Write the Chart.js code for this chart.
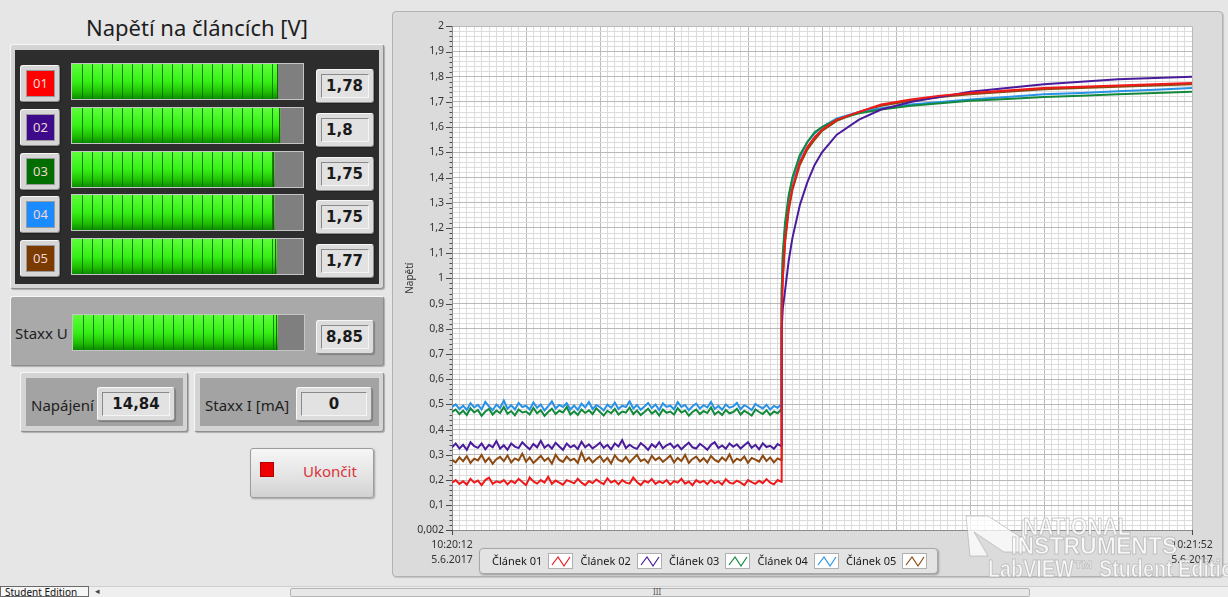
<!DOCTYPE html>
<html><head><meta charset="utf-8">
<script src="https://cdn.jsdelivr.net/npm/chart.js@4.4.1/dist/chart.umd.min.js"></script>
<style>
html,body{margin:0;padding:0;}
body{width:1228px;height:597px;background:#e6e6e6;position:relative;overflow:hidden;font-family:"Noto Sans",sans-serif;}
.abs{position:absolute;box-sizing:border-box;}
.raised{background:#d9d9d9;border:1px solid #f7f7f7;border-right-color:#8e8e8e;border-bottom-color:#8e8e8e;border-radius:3px;box-shadow:1px 1px 1px rgba(0,0,0,0.25);}
.sunken{background:#e2e2e2;border:1px solid #8a8a8a;border-right-color:#f5f5f5;border-bottom-color:#f5f5f5;}
.valtxt{font-family:"DejaVu Sans",sans-serif;font-weight:bold;font-size:15px;color:#1a1a1a;}
.lbl{font-size:15px;color:#1e1e1e;}
.meter{background:#7f7f7f;border:1px solid #c4c4c4;}
.meter canvas{position:absolute;left:0;top:0;}
.wm{position:absolute;font-family:"Liberation Sans",sans-serif;line-height:1;color:rgba(255,255,255,0.8);-webkit-text-stroke:1px rgba(160,160,160,0.55);white-space:nowrap;transform-origin:left top;pointer-events:none;}
</style>
</head><body>
<script>
// ---------------- DATA ----------------
const cellNames = ["01","02","03","04","05"];
const cellValues = [1.78, 1.8, 1.75, 1.75, 1.77];
const cellMeterMax = 2;
const staxxU = 8.85;
const staxxUMax = 10;
const napajeni = 14.84;
const staxxI = 0;

const seriesLabels = ["Článek 01","Článek 02","Článek 03","Článek 04","Článek 05"];
const seriesColors = ["#f01818","#4a1c9c","#13893c","#2a92e6","#8c4a12"];
const buttonColors = ["#ff0000","#3d0a8c","#006e00","#1a8cff","#7a3a00"];

const xTickLabels = [["10:20:12","5.6.2017"],["10:21:52","5.6.2017"]];
const xRangeSeconds = [0, 100];
const yTickLabels = ["0,002","0,1","0,2","0,3","0,4","0,5","0,6","0,7","0,8","0,9","1","1,1","1,2","1,3","1,4","1,5","1,6","1,7","1,8","1,9","2"];
const yRange = [0.002, 2];
const yAxisTitle = "Napětí";

// noisy idle samples, one every flatStep seconds starting at t = 0
const flatStep = 0.5;
const flat01 = [0.19,0.2,0.185,0.195,0.182,0.205,0.19,0.198,0.18,0.2,0.21,0.185,0.195,0.19,0.2,0.183,0.197,0.188,0.205,0.192,0.18,0.21,0.195,0.186,0.2,0.19,0.213,0.185,0.198,0.19,0.182,0.2,0.194,0.187,0.205,0.19,0.18,0.196,0.188,0.202,0.192,0.184,0.207,0.19,0.198,0.183,0.2,0.19,0.186,0.21,0.192,0.18,0.197,0.19,0.204,0.185,0.195,0.188,0.2,0.182,0.196,0.19,0.205,0.186,0.194,0.18,0.2,0.19,0.197,0.184,0.2,0.188,0.195,0.182,0.203,0.19,0.186,0.198,0.19,0.18,0.2,0.192,0.185,0.197,0.188,0.204,0.19,0.183,0.2,0.193];
const flat02 = [0.33,0.345,0.325,0.34,0.32,0.35,0.335,0.328,0.345,0.322,0.34,0.33,0.355,0.325,0.338,0.32,0.345,0.333,0.327,0.35,0.335,0.322,0.343,0.33,0.356,0.328,0.34,0.325,0.348,0.333,0.32,0.345,0.33,0.338,0.323,0.352,0.33,0.342,0.326,0.336,0.348,0.328,0.34,0.322,0.345,0.333,0.358,0.327,0.34,0.33,0.324,0.346,0.335,0.32,0.342,0.33,0.35,0.326,0.338,0.345,0.328,0.34,0.322,0.336,0.348,0.33,0.325,0.344,0.333,0.32,0.34,0.35,0.327,0.337,0.324,0.345,0.332,0.342,0.325,0.338,0.35,0.328,0.34,0.322,0.346,0.331,0.336,0.324,0.343,0.335];
const flat03 = [0.47,0.48,0.462,0.475,0.458,0.485,0.468,0.478,0.455,0.472,0.482,0.46,0.476,0.466,0.49,0.463,0.474,0.457,0.48,0.468,0.472,0.46,0.486,0.465,0.477,0.455,0.47,0.483,0.462,0.475,0.468,0.49,0.46,0.473,0.458,0.48,0.466,0.477,0.462,0.485,0.47,0.456,0.475,0.465,0.482,0.46,0.472,0.468,0.488,0.462,0.476,0.458,0.47,0.483,0.464,0.475,0.456,0.48,0.467,0.472,0.46,0.485,0.468,0.476,0.455,0.47,0.48,0.462,0.474,0.466,0.488,0.46,0.472,0.458,0.478,0.465,0.47,0.483,0.46,0.475,0.466,0.456,0.48,0.47,0.462,0.477,0.458,0.472,0.465,0.48];
const flat04 = [0.49,0.5,0.482,0.495,0.478,0.505,0.488,0.498,0.48,0.51,0.492,0.477,0.5,0.486,0.515,0.483,0.497,0.48,0.506,0.49,0.495,0.48,0.508,0.487,0.5,0.476,0.493,0.512,0.484,0.498,0.49,0.505,0.48,0.496,0.478,0.503,0.488,0.51,0.482,0.497,0.49,0.476,0.5,0.487,0.507,0.482,0.495,0.49,0.513,0.484,0.498,0.479,0.492,0.506,0.486,0.5,0.478,0.504,0.49,0.495,0.481,0.509,0.49,0.498,0.477,0.493,0.503,0.484,0.497,0.488,0.51,0.482,0.494,0.479,0.5,0.487,0.492,0.506,0.481,0.497,0.489,0.478,0.502,0.492,0.484,0.499,0.48,0.494,0.487,0.5];
const flat05 = [0.28,0.27,0.29,0.275,0.295,0.268,0.285,0.278,0.3,0.272,0.288,0.265,0.283,0.292,0.275,0.298,0.27,0.286,0.278,0.305,0.273,0.29,0.268,0.282,0.296,0.276,0.288,0.265,0.3,0.28,0.272,0.293,0.278,0.285,0.268,0.31,0.276,0.29,0.27,0.284,0.295,0.273,0.288,0.266,0.298,0.28,0.274,0.292,0.27,0.286,0.3,0.275,0.283,0.268,0.296,0.279,0.29,0.272,0.285,0.297,0.27,0.288,0.276,0.3,0.268,0.284,0.293,0.274,0.287,0.27,0.296,0.28,0.272,0.29,0.277,0.302,0.27,0.285,0.278,0.294,0.268,0.288,0.281,0.273,0.297,0.276,0.29,0.27,0.286,0.279];

// charging curve after the step (seconds from 10:20:12)
const curveTimes = [44.55,44.7,45,45.5,46,47,48,49,50,52,55,58,62,66,70,75,80,85,90,95,100];
const curve01 = [0.85,1.0,1.15,1.28,1.36,1.46,1.52,1.56,1.59,1.63,1.66,1.69,1.71,1.725,1.735,1.745,1.755,1.76,1.765,1.77,1.775];
const curve02 = [0.8,0.88,0.95,1.07,1.16,1.29,1.38,1.45,1.5,1.57,1.63,1.67,1.70,1.72,1.74,1.755,1.77,1.78,1.79,1.795,1.8];
const curve03 = [0.95,1.1,1.22,1.33,1.4,1.49,1.54,1.58,1.6,1.63,1.655,1.67,1.685,1.695,1.705,1.712,1.72,1.725,1.73,1.735,1.74];
const curve04 = [0.95,1.08,1.2,1.32,1.39,1.48,1.54,1.575,1.6,1.635,1.66,1.675,1.69,1.70,1.71,1.72,1.73,1.735,1.742,1.748,1.755];
const curve05 = [0.9,1.0,1.14,1.27,1.35,1.45,1.51,1.55,1.585,1.625,1.66,1.685,1.705,1.72,1.73,1.74,1.75,1.755,1.76,1.765,1.77];

const flats = [flat01, flat02, flat03, flat04, flat05];
const curves = [curve01, curve02, curve03, curve04, curve05];

function fmt(v){ return String(v).replace('.', ','); }

// ---------------- LEFT PANEL ----------------
function el(tag, cls, style, text){
  const e = document.createElement(tag);
  if (cls) e.className = cls;
  Object.assign(e.style, style || {});
  if (text !== undefined) e.textContent = text;
  document.body.appendChild(e);
  return e;
}
el('div','abs',{left:'0px',top:'11px',width:'394px',textAlign:'center',fontSize:'22px',color:'#1e1e1e',lineHeight:'32px'},'Napětí na článcích [V]');
el('div','abs raised',{left:'10px',top:'44px',width:'374px',height:'245px',background:'#d4d4d4'});
el('div','abs',{left:'15px',top:'50px',width:'364px',height:'234px',background:'#2d2d2d'});

const meters = [];
function segPlugin(){
  return {id:'segs', afterDatasetsDraw(chart){
    const bar = chart.getDatasetMeta(0).data[0];
    if (!bar) return;
    const c = chart.ctx; const h = bar.height; const y0 = bar.y - h/2;
    c.save(); c.strokeStyle = 'rgba(10,110,0,0.85)'; c.lineWidth = 1;
    for (let x = bar.base + 10; x < bar.x - 2; x += 10) {
      c.beginPath(); c.moveTo(Math.round(x)+0.5, y0); c.lineTo(Math.round(x)+0.5, y0+h); c.stroke();
    }
    c.strokeStyle = 'rgba(20,90,0,0.9)';
    c.beginPath(); c.moveTo(Math.round(bar.x)-0.5, y0); c.lineTo(Math.round(bar.x)-0.5, y0+h); c.stroke();
    c.restore();
  }};
}
function makeMeter(left, top, value, max){
  const box = el('div','abs meter',{left:left+'px',top:top+'px',width:'233px',height:'37px'});
  const cv = document.createElement('canvas'); cv.width = 231; cv.height = 35;
  cv.style.width = '231px'; cv.style.height = '35px';
  box.appendChild(cv);
  meters.push(new Chart(cv, {
    type:'bar',
    data:{labels:[''], datasets:[{data:[value], borderWidth:0, barPercentage:1, categoryPercentage:1,
      backgroundColor:(ctx)=>{ const a = ctx.chart.chartArea; if (!a) return '#33ee11';
        const g = ctx.chart.ctx.createLinearGradient(0,a.top,0,a.bottom);
        g.addColorStop(0,'#5dff3a'); g.addColorStop(0.5,'#36f016'); g.addColorStop(0.8,'#1fc004'); g.addColorStop(1,'#0c8a00'); return g; }}]},
    options:{indexAxis:'y', responsive:false, animation:false, events:[], layout:{padding:0},
      plugins:{legend:{display:false}, tooltip:{enabled:false}},
      scales:{x:{display:false, min:0, max:max}, y:{display:false}}},
    plugins:[segPlugin()]
  }));
}

const rowTop0 = 63, rowStep = 43.75;
cellNames.forEach((name, i) => {
  const t = Math.round(rowTop0 + i*rowStep);
  el('div','abs raised',{left:'20px',top:(t+2)+'px',width:'40px',height:'37px',background:'#d6d6d6'});
  el('div','abs',{left:'26px',top:(t+7)+'px',width:'29px',height:'27px',background:buttonColors[i],border:'1px solid #9a9a9a',color:'#f3d6d6',fontSize:'13px',lineHeight:'25px',textAlign:'center'}, name);
  makeMeter(71, t, cellValues[i], cellMeterMax);
  el('div','abs raised',{left:'316px',top:(t+6)+'px',width:'58px',height:'34px',background:'#dcdcdc'});
  el('div','abs sunken valtxt',{left:'321px',top:(t+11)+'px',width:'48px',height:'24px',lineHeight:'22px',paddingLeft:'4px'}, fmt(cellValues[i]));
});

// Staxx U
el('div','abs raised',{left:'10px',top:'296px',width:'374px',height:'70px',background:'#a9a9a9'});
el('div','abs lbl',{left:'15px',top:'322px',lineHeight:'22px'},'Staxx U');
makeMeter(72, 314, staxxU, staxxUMax);
el('div','abs raised',{left:'316px',top:'320px',width:'58px',height:'34px',background:'#dcdcdc'});
el('div','abs sunken valtxt',{left:'321px',top:'325px',width:'48px',height:'24px',lineHeight:'22px',paddingLeft:'4px'}, fmt(staxxU));

// Napájení
el('div','abs raised',{left:'20px',top:'372px',width:'168px',height:'60px',background:'#d4d4d4'});
el('div','abs',{left:'26px',top:'378px',width:'157px',height:'48px',background:'#a3a3a3'});
el('div','abs lbl',{left:'31px',top:'394px',lineHeight:'22px'},'Napájení');
el('div','abs raised',{left:'97px',top:'387px',width:'78px',height:'34px',background:'#dcdcdc'});
el('div','abs sunken valtxt',{left:'102px',top:'392px',width:'68px',height:'24px',lineHeight:'22px',textAlign:'center'}, fmt(napajeni));

// Staxx I
el('div','abs raised',{left:'194px',top:'372px',width:'190px',height:'60px',background:'#d4d4d4'});
el('div','abs',{left:'200px',top:'378px',width:'179px',height:'48px',background:'#a3a3a3'});
el('div','abs lbl',{left:'205px',top:'394px',lineHeight:'22px'},'Staxx I [mA]');
el('div','abs raised',{left:'296px',top:'387px',width:'76px',height:'34px',background:'#dcdcdc'});
el('div','abs sunken valtxt',{left:'301px',top:'392px',width:'66px',height:'24px',lineHeight:'22px',textAlign:'center'}, fmt(staxxI));

// Ukončit button
el('div','abs',{left:'250px',top:'448px',width:'124px',height:'50px',background:'linear-gradient(#f6f6f6,#e4e4e4 55%,#d2d2d2)',border:'1px solid #9c9c9c',borderRadius:'3px',boxShadow:'1px 1px 2px rgba(0,0,0,0.3)'});
el('div','abs',{left:'260px',top:'462px',width:'14px',height:'15px',background:'#ee0000',border:'1px solid #b00000'});
el('div','abs',{left:'303px',top:'459px',fontSize:'15px',color:'#d8343a',lineHeight:'24px'},'Ukončit');

// bottom status / scrollbar
el('div','abs',{left:'0px',top:'586px',width:'1228px',height:'11px',background:'#efefef',borderTop:'1px solid #cfcfcf'});
el('div','abs',{left:'0px',top:'586px',width:'89px',height:'11px',background:'#f6f6f6',border:'1px solid #6a6a6a',fontSize:'10px',lineHeight:'10px',paddingLeft:'4px',color:'#111'},'Student Edition');
el('div','abs',{left:'95px',top:'585px',fontSize:'9px',color:'#444',lineHeight:'12px'},'◂');
el('div','abs',{left:'290px',top:'588px',width:'740px',height:'9px',background:'#e8e8e8',border:'1px solid #b4b4b4',borderRadius:'2px'});
el('div','abs',{left:'653px',top:'587px',fontSize:'8px',color:'#555',lineHeight:'10px'},'III');

// ---------------- MAIN CHART ----------------
el('div','abs',{left:'392px',top:'11px',width:'831px',height:'566px',background:'#dbdbdb',border:'1px solid #b2b2b2',borderRadius:'4px',boxShadow:'1px 1px 1px rgba(0,0,0,0.15)'});
const cv = document.createElement('canvas');
cv.width = 829; cv.height = 564;
Object.assign(cv.style,{position:'absolute',left:'393px',top:'12px',width:'829px',height:'564px'});
document.body.appendChild(cv);

const datasets = seriesLabels.map((lab, i) => {
  const pts = flats[i].map((v, k) => ({x: k*flatStep, y: v}));
  curveTimes.forEach((t, j) => pts.push({x: t, y: curves[i][j]}));
  return {label: lab, data: pts, borderColor: seriesColors[i], backgroundColor: seriesColors[i],
          borderWidth: 2, pointRadius: 0, tension: 0, fill: false};
});

const majorGrid = '#b9b9b9', minorGrid = '#dcdcdc';
const tickMarks = {id:'tickMarks', afterDraw(chart){
  const {ctx, chartArea:a} = chart; const x = chart.scales.x, y = chart.scales.y;
  ctx.save(); ctx.strokeStyle = '#4a4a4a'; ctx.lineWidth = 1;
  y.ticks.forEach((t, i) => {
    const py = Math.round(y.getPixelForValue(t.value)) + 0.5;
    const len = (i % 5 === 0) ? 6 : 2.5;
    ctx.beginPath(); ctx.moveTo(a.left - len, py); ctx.lineTo(a.left, py); ctx.stroke();
  });
  xRangeSeconds.forEach(v => {
    const px = Math.round(x.getPixelForValue(v)) + 0.5;
    ctx.beginPath(); ctx.moveTo(px, a.bottom); ctx.lineTo(px, a.bottom + 5); ctx.stroke();
  });
  ctx.restore();
}};
const plotBg = {id:'plotBg', beforeDraw(chart){
  const {ctx, chartArea:a} = chart; ctx.save(); ctx.fillStyle = '#ffffff';
  ctx.fillRect(a.left, a.top, a.right - a.left, a.bottom - a.top); ctx.restore();
}};

const chart = new Chart(cv, {
  type: 'line',
  data: {datasets},
  options: {
    responsive: false, animation: false, events: [],
    layout: {padding: {left: 0, top: 9, right: 30, bottom: 0}},
    plugins: {legend: {display: false}, tooltip: {enabled: false}},
    scales: {
      x: {type: 'linear', min: xRangeSeconds[0], max: xRangeSeconds[1],
        afterBuildTicks: s => { const arr = []; for (let v = xRangeSeconds[0]; v <= xRangeSeconds[1]; v++) arr.push({value: v}); s.ticks = arr; },
        afterFit: s => { s.height = 46; },
        ticks: {autoSkip: false, maxRotation: 0, minRotation: 0, padding: 7, color: '#333',
          font: {family: 'Noto Sans', size: 10.5, lineHeight: 1.45},
          callback: (v, i, ticks) => i === 0 ? xTickLabels[0] : (i === ticks.length - 1 ? xTickLabels[1] : '')},
        grid: {drawTicks: false, lineWidth: 1, color: c => (c.tick && c.tick.value % 10 === 0) ? majorGrid : minorGrid},
        border: {display: true, color: '#8c8c8c'}
      },
      y: {type: 'linear', min: yRange[0], max: yRange[1],
        afterBuildTicks: s => { const arr = [{value: yRange[0]}]; for (let i = 1; i <= 100; i++) arr.push({value: +(i*0.02).toFixed(2)}); s.ticks = arr; },
        afterFit: s => { s.width = 59; },
        ticks: {autoSkip: false, padding: 8, color: '#333', font: {family: 'Noto Sans', size: 10.5},
          callback: (v, i) => (i % 5 === 0) ? yTickLabels[i/5] : ''},
        grid: {drawTicks: false, lineWidth: 1, color: c => (c.index % 5 === 0) ? majorGrid : minorGrid},
        border: {display: true, color: '#8c8c8c'},
        title: {display: true, text: yAxisTitle, color: '#333', font: {family: 'Noto Sans', size: 10}, padding: {top: 11, bottom: 0}}
      }
    }
  },
  plugins: [plotBg, tickMarks]
});

// ---------------- LEGEND (from chart datasets) ----------------
const leg = el('div','abs',{left:'479px',top:'548px',width:'459px',height:'26px',background:'#e3e3e3',border:'1px solid #a8a8a8',borderRadius:'4px',boxShadow:'1px 1px 2px rgba(0,0,0,0.3)'});
chart.data.datasets.forEach((ds, i) => {
  const x0 = 12 + i*88.5;
  const t = document.createElement('div');
  Object.assign(t.style,{position:'absolute',left:x0+'px',top:'3px',fontSize:'11px',lineHeight:'18px',color:'#1a1a1a',whiteSpace:'nowrap'});
  t.textContent = ds.label; leg.appendChild(t);
  const ic = document.createElement('div');
  Object.assign(ic.style,{position:'absolute',left:(x0+56)+'px',top:'4px',width:'25px',height:'16px',background:'#fff',border:'1px solid #b0b0b0',boxSizing:'border-box'});
  ic.innerHTML = '<svg width="23" height="14" style="position:absolute;left:0;top:0"><polyline points="3,11 9,3 15,12 21,3" fill="none" stroke="'+ds.borderColor+'" stroke-width="1.2"/></svg>';
  leg.appendChild(ic);
});

// ---------------- WATERMARK ----------------
const logo = el('div','abs',{left:'964px',top:'512px',width:'64px',height:'52px',pointerEvents:'none'});
logo.innerHTML = '<svg width="64" height="52"><polygon points="2,4 24,4 58,26 58,8 62,8 62,40 40,40 10,20 24,44 6,44" fill="rgba(255,255,255,0.75)" stroke="rgba(160,160,160,0.5)" stroke-width="1"/></svg>';
el('div','wm',{left:'1023px',top:'515px',fontSize:'24px',fontWeight:'bold',transform:'scaleX(0.88)'},'NATIONAL');
el('div','wm',{left:'1011px',top:'534px',fontSize:'24px',fontWeight:'bold',transform:'scaleX(0.96)'},'INSTRUMENTS');
el('div','wm',{left:'988px',top:'558px',fontSize:'23px',fontWeight:'bold',transform:'scaleX(0.86)'},'LabVIEW™ Student Edition');
</script>
</body></html>
